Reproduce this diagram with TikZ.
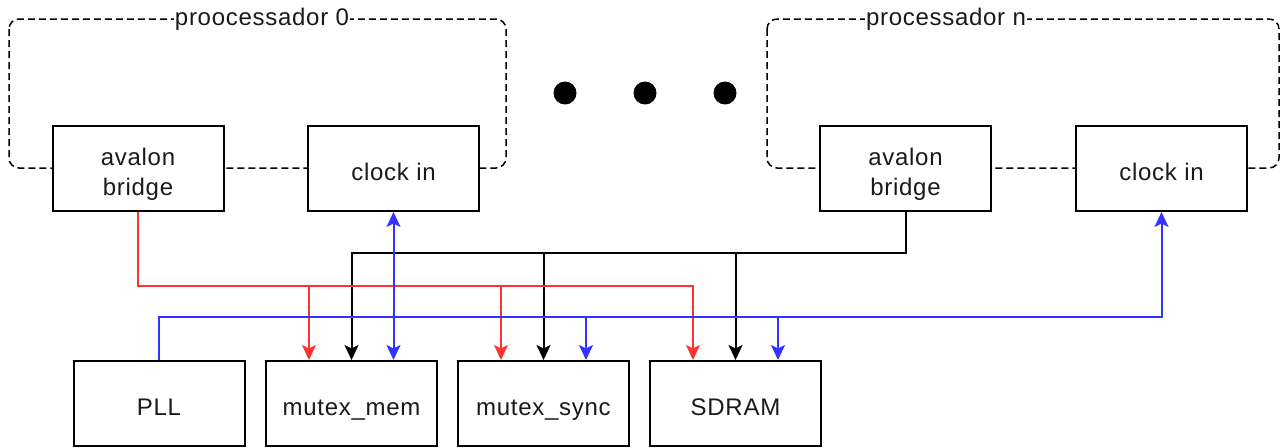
\documentclass[tikz,border=0pt]{standalone}
\usepackage{fontspec}
\setmainfont[LetterSpace=3]{Liberation Sans}
\usetikzlibrary{arrows.meta}
\definecolor{cred}{HTML}{FF3333}
\definecolor{cblue}{HTML}{3333FF}
\definecolor{ctext}{HTML}{1A1A1A}
\begin{document}
\begin{tikzpicture}[x=1pt,y=-1pt,
  box/.style={draw=black, fill=white, line width=2pt, minimum width=171pt, minimum height=85pt, inner sep=0pt},
  boxtext/.style={inner sep=0pt, align=center, text=ctext, font=\fontsize{24}{30}\selectfont},
  grp/.style={draw=black, line width=1.5pt, dash pattern=on 7pt off 4pt, rounded corners=10pt},
  grplabel/.style={fill=white, inner xsep=1pt, inner ysep=1pt, text=ctext, font=\fontsize{24}{28}\selectfont},
  dotnode/.style={circle, fill=black, minimum size=23pt, inner sep=0pt},
  tip/.style={-{Stealth[length=15pt,width=14pt,inset=3.5pt]}},
  redc/.style={draw=cred, line width=2pt, tip},
  blkc/.style={draw=black, line width=2pt, tip},
  bluc/.style={draw=cblue, line width=2pt, tip},
]
\useasboundingbox (0,0) rectangle (1284,447);
% processor groups
\draw[grp] (9,19) rectangle (506,168);
\draw[grp] (767,19) rectangle (1279,168);
\node[grplabel] (l0) at (262,19) {proocessador 0};
\node[grplabel] (ln) at (946,19) {processador n};
% dots
\node[dotnode] (d1) at (565,93) {};
\node[dotnode] (d2) at (645,93) {};
\node[dotnode] (d3) at (725,93) {};
% boxes
\node[box] (ab0) at (138,168.5) {};
\node[box] (ck0) at (393.5,168.5) {};
\node[box] (abn) at (905.5,168.5) {};
\node[box] (ckn) at (1161.5,168.5) {};
\node[box] (pll) at (159,403.5) {};
\node[box] (mem) at (351.5,403.5) {};
\node[box] (sync) at (543.5,403.5) {};
\node[box] (sdram) at (735.5,403.5) {};
% box texts
\node[boxtext] (t-ab0) at ([yshift=-5.5pt]ab0.center) {avalon\\bridge};
\node[boxtext, anchor=base] (t-ck0) at ([yshift=-11.5pt]ck0.center) {clock in};
\node[boxtext] (t-abn) at ([yshift=-5.5pt]abn.center) {avalon\\bridge};
\node[boxtext, anchor=base] (t-ckn) at ([yshift=-11.5pt]ckn.center) {clock in};
\node[boxtext, anchor=base] (t-pll) at ([yshift=-11.5pt]pll.center) {PLL};
\node[boxtext, anchor=base] (t-mem) at ([yshift=-11.5pt]mem.center) {mutex\_mem};
\node[boxtext, anchor=base] (t-sync) at ([yshift=-11.5pt]sync.center) {mutex\_sync};
\node[boxtext, anchor=base] (t-sdram) at ([yshift=-11.5pt]sdram.center) {SDRAM};
% bus levels
\coordinate (kbus) at (0,253);
\coordinate (rbus) at (0,286);
\coordinate (bbus) at (0,317);
% black bus
\draw[blkc] (abn.south) -- (abn.south |- kbus) -| (mem.north);
\draw[blkc] (sync.north |- kbus) -- (sync.north);
\draw[blkc] (sdram.north |- kbus) -- (sdram.north);
% red bus
\draw[redc] (ab0.south) -- (ab0.south |- rbus) -| ([xshift=-42.5pt]sdram.north);
\draw[redc] ([xshift=-42.5pt]mem.north |- rbus) -- ([xshift=-42.5pt]mem.north);
\draw[redc] ([xshift=-42.5pt]sync.north |- rbus) -- ([xshift=-42.5pt]sync.north);
% blue bus
\draw[bluc] (pll.north) -- (pll.north |- bbus) -| (ckn.south);
\draw[bluc] ([xshift=42.5pt]sync.north |- bbus) -- ([xshift=42.5pt]sync.north);
\draw[bluc] ([xshift=42.5pt]sdram.north |- bbus) -- ([xshift=42.5pt]sdram.north);
\draw[bluc, {Stealth[length=15pt,width=14pt,inset=3.5pt]}-{Stealth[length=15pt,width=14pt,inset=3.5pt]}] (ck0.south) -- (ck0.south |- mem.north);
\end{tikzpicture}
\end{document}
